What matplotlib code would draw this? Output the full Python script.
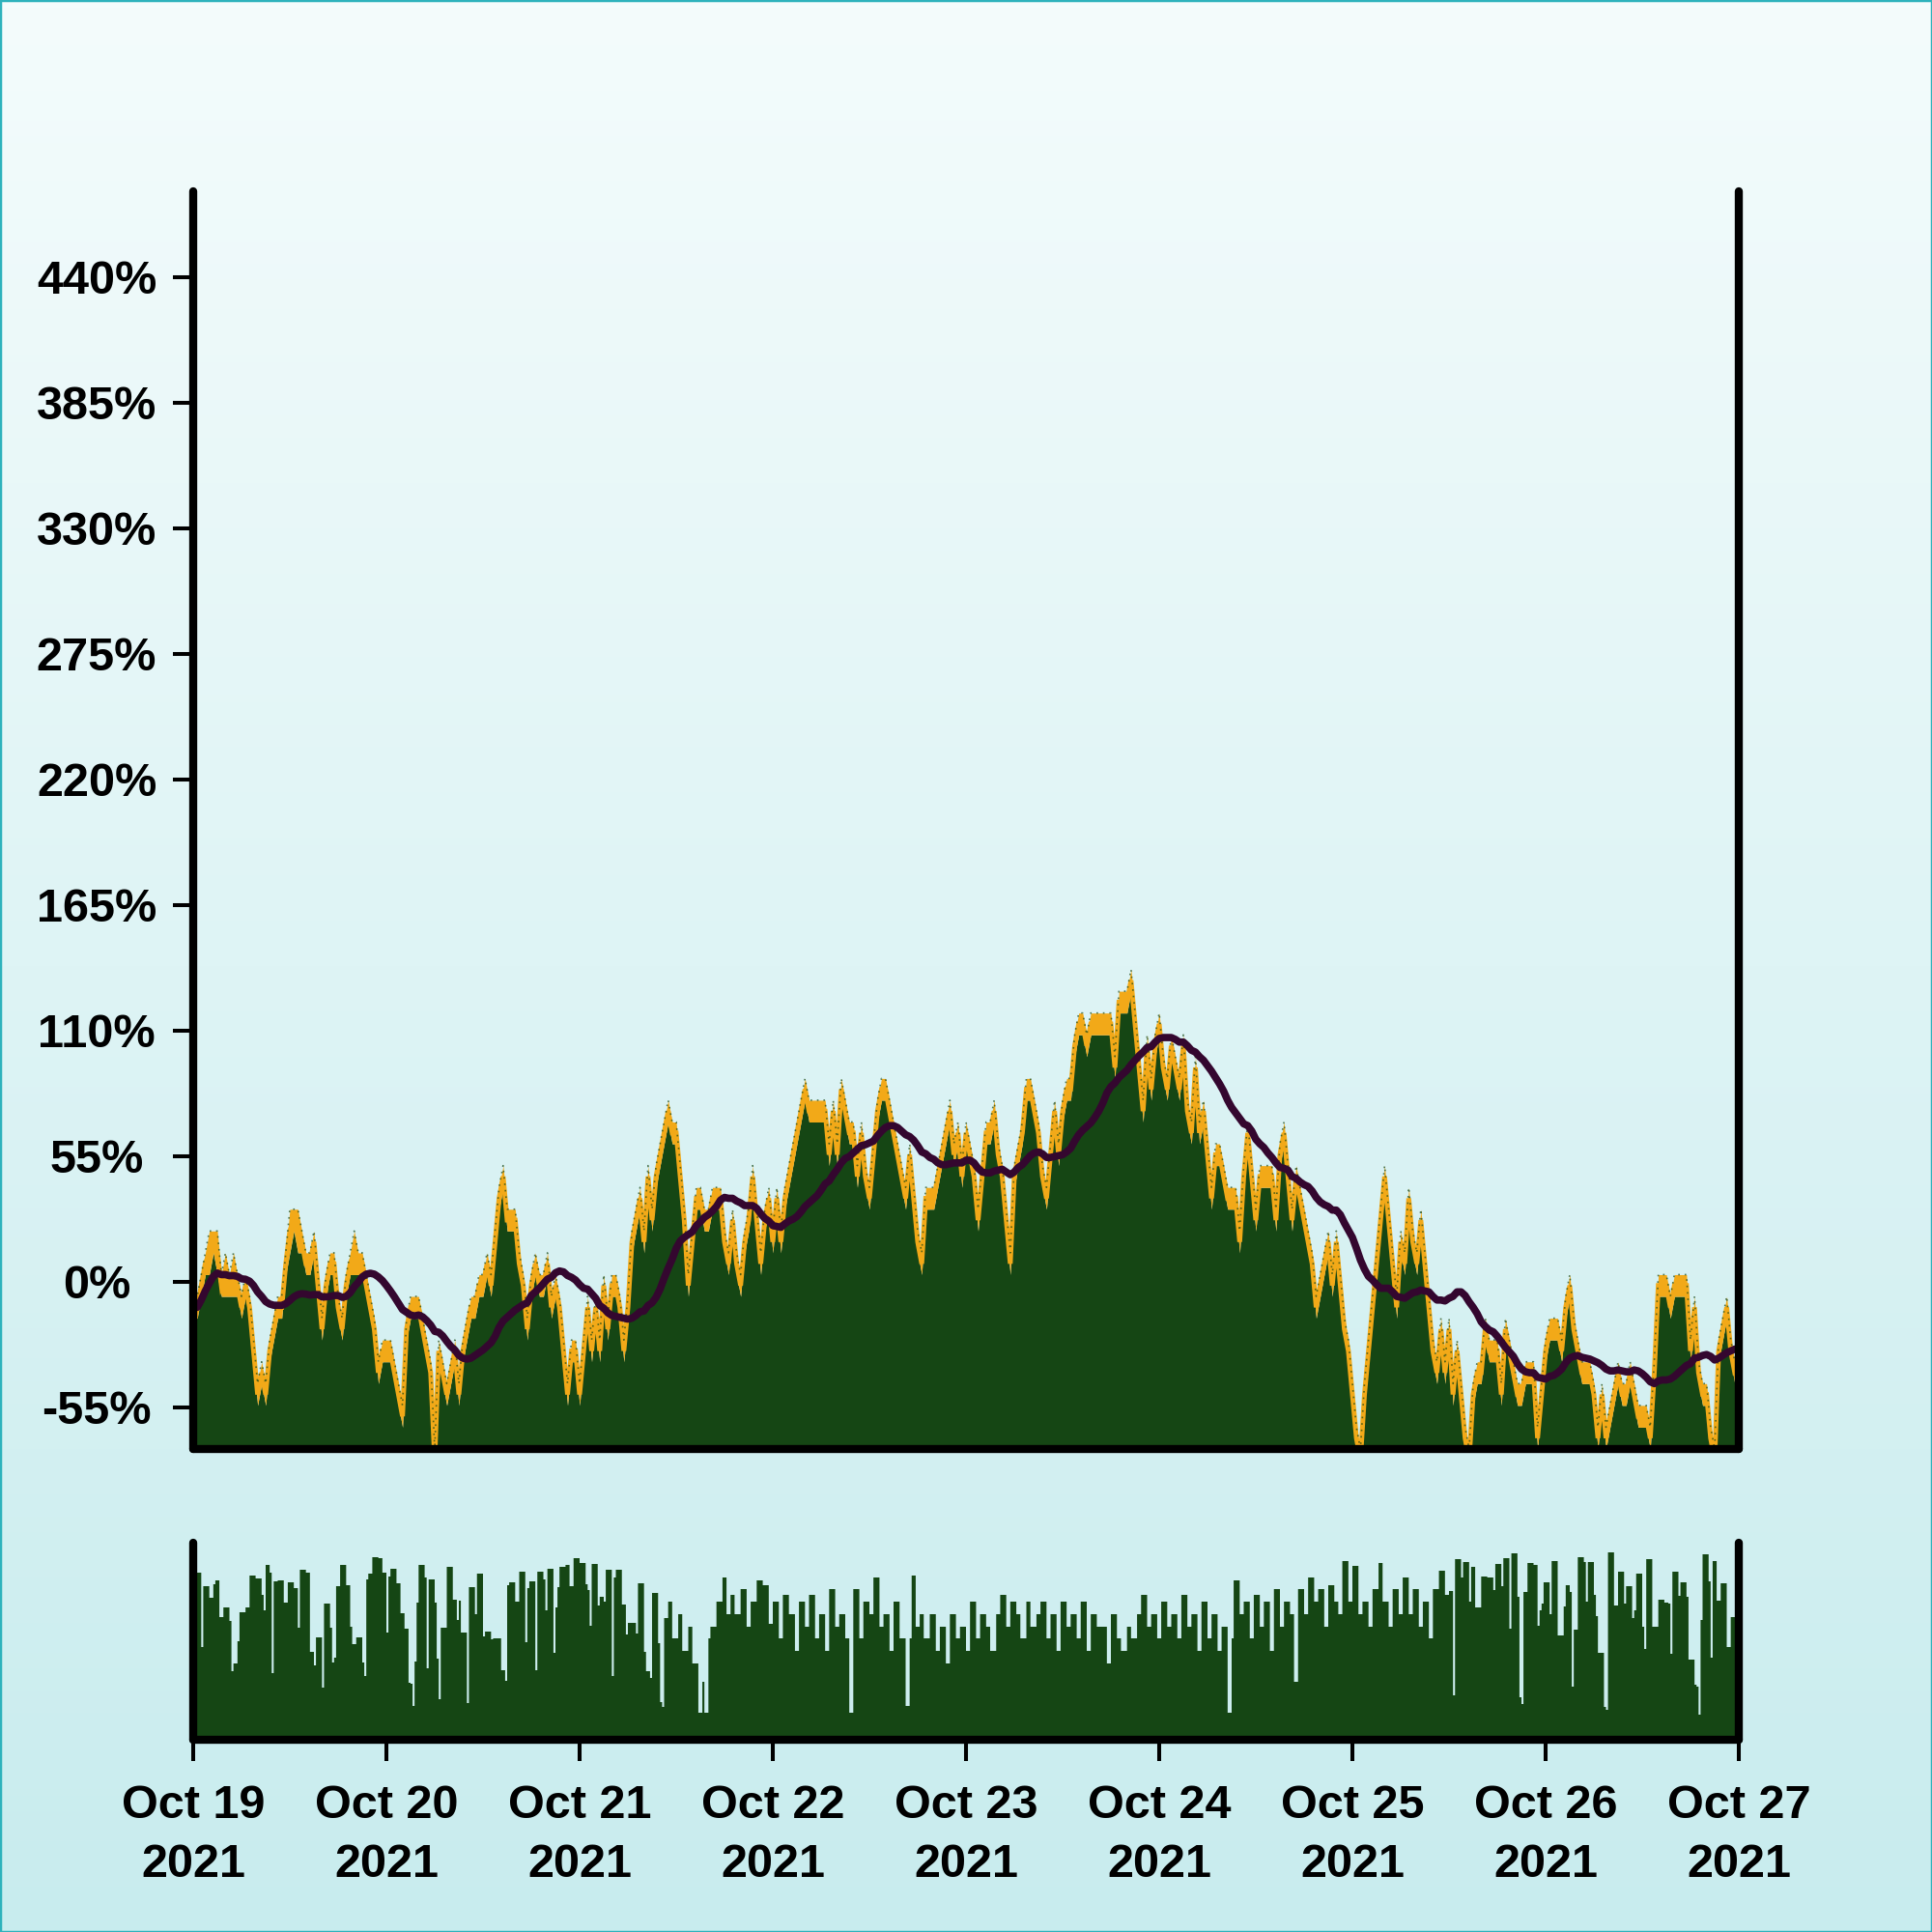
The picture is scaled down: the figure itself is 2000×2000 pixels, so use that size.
import numpy as np
import pandas as pd
import matplotlib
matplotlib.use("Agg")
import matplotlib.pyplot as plt
import matplotlib.dates as mdates
from matplotlib.ticker import FixedLocator, FuncFormatter
from matplotlib.colors import LinearSegmentedColormap
from matplotlib.patches import Rectangle

plt.rcParams['font.family'] = ['Liberation Sans', 'DejaVu Sans']
plt.rcParams['font.weight'] = 'bold'
plt.rcParams['axes.unicode_minus'] = False

# price moves in whole ticks, 1 tick = 9.55 %, tick 0 = +3 %
TICK_PCT = 9.55
TICK_ZERO = 3.0

# 30 min samples, Oct 19 00:00 -> Oct 26 23:30
high_ticks = [
    -1, -1, 0, 1, 2, 2, 2, 0, 1, 0, 1, 0, -1, 0, -1, -3, -5, -4, -5, -3,
    -2, -1, -1, 1, 3, 3, 3, 2, 1, 1, 2, 0, -2, 0, 1, 1, -1, -2, 0, 1,
    2, 1, 1, 0, -1, -2, -4, -3, -3, -3, -4, -5, -6, -2, -1, -1, -1, -2, -3, -4,
    -8, -3, -4, -5, -4, -3, -5, -3, -2, -1, -1, 0, 0, 1, 0, 2, 4, 5, 3, 3,
    3, 1, 0, -2, 0, 1, 0, 0, 1, -1, 0, -1, -3, -5, -3, -3, -5, -3, -1, -3,
    -1, -3, 0, -2, 0, 0, -1, -3, -1, 2, 3, 4, 2, 5, 3, 5, 6, 7, 8, 7,
    7, 5, 3, 0, 2, 4, 4, 3, 3, 4, 4, 4, 2, 1, 3, 1, 0, 2, 3, 5,
    3, 1, 3, 4, 2, 4, 2, 4, 5, 6, 7, 8, 9, 8, 8, 8, 8, 8, 6, 8,
    6, 9, 8, 7, 7, 5, 7, 5, 4, 6, 8, 9, 9, 8, 7, 6, 5, 4, 6, 4,
    2, 1, 4, 4, 4, 5, 6, 7, 8, 6, 7, 5, 7, 6, 5, 3, 5, 7, 7, 8,
    6, 5, 3, 1, 5, 6, 7, 9, 9, 8, 7, 5, 4, 6, 8, 6, 8, 9, 9, 11,
    12, 12, 11, 12, 12, 12, 12, 12, 12, 10, 13, 13, 13, 14, 12, 10, 8, 11, 9, 11,
    12, 10, 9, 11, 10, 9, 11, 8, 7, 10, 7, 8, 6, 4, 6, 6, 5, 4, 4, 4,
    2, 5, 7, 5, 3, 5, 5, 5, 5, 3, 6, 7, 5, 3, 5, 4, 3, 2, 1, -1,
    0, 1, 2, 0, 2, 0, -2, -3, -5, -7, -8, -5, -3, -1, 1, 3, 5, 3, 1, -1,
    2, 1, 4, 2, 1, 3, 1, -1, -3, -4, -2, -4, -2, -5, -3, -5, -7, -8, -5, -4,
    -4, -2, -3, -3, -3, -5, -2, -3, -4, -5, -5, -4, -4, -4, -7, -5, -3, -2, -2, -2,
    -3, -1, 0, -2, -3, -4, -4, -4, -5, -7, -5, -7, -6, -5, -4, -5, -5, -4, -5, -6,
    -6, -6, -7, -4, 0, 0, 0, -1, 0, 0, 0, 0, -3, -1, -4, -5, -5, -7, -8, -3,
    -2, -1, -3, -4,
]
low_ticks = [
    -2, -2, -1, 0, 0, 1, 0, -1, -1, -1, -1, -1, -2, -1, -2, -4, -6, -5, -6, -4,
    -3, -2, -2, 0, 1, 2, 1, 1, 0, 0, 1, -1, -3, -1, 0, 0, -2, -3, -1, 0,
    0, 0, 0, -1, -2, -3, -5, -4, -4, -4, -5, -6, -7, -3, -2, -2, -2, -3, -4, -5,
    -9, -4, -5, -6, -5, -4, -6, -4, -3, -2, -2, -1, -1, 0, -1, 1, 3, 4, 2, 2,
    2, 0, -1, -3, -1, 0, -1, -1, 0, -2, -1, -2, -4, -6, -4, -4, -6, -4, -2, -4,
    -2, -4, -1, -3, -1, -1, -2, -4, -2, 1, 2, 3, 1, 4, 2, 4, 5, 6, 7, 6,
    6, 4, 2, -1, 1, 3, 3, 2, 2, 3, 3, 3, 1, 0, 2, 0, -1, 1, 2, 4,
    2, 0, 2, 3, 1, 3, 1, 3, 4, 5, 6, 7, 8, 7, 7, 7, 7, 7, 5, 7,
    5, 8, 7, 6, 6, 4, 6, 4, 3, 5, 7, 8, 8, 7, 6, 5, 4, 3, 5, 3,
    1, 0, 3, 3, 3, 4, 5, 6, 7, 5, 6, 4, 6, 5, 4, 2, 4, 6, 6, 7,
    5, 4, 2, 0, 4, 5, 6, 8, 8, 7, 6, 4, 3, 5, 7, 5, 7, 8, 8, 10,
    11, 11, 10, 11, 11, 11, 11, 11, 11, 9, 12, 12, 12, 13, 11, 9, 7, 10, 8, 10,
    11, 9, 8, 10, 9, 8, 10, 7, 6, 9, 6, 7, 5, 3, 5, 5, 4, 3, 3, 3,
    1, 4, 6, 4, 2, 4, 4, 4, 4, 2, 5, 6, 4, 2, 4, 3, 2, 1, 0, -2,
    -1, 0, 1, -1, 1, -1, -3, -4, -6, -8, -9, -6, -4, -2, 0, 2, 4, 2, 0, -2,
    1, 0, 3, 1, 0, 2, 0, -2, -4, -5, -3, -5, -3, -6, -4, -6, -8, -9, -6, -5,
    -5, -3, -4, -4, -4, -6, -3, -4, -5, -6, -6, -5, -5, -5, -8, -6, -4, -3, -3, -3,
    -4, -2, -1, -3, -4, -5, -5, -5, -6, -8, -6, -8, -7, -6, -5, -6, -6, -5, -6, -7,
    -7, -7, -8, -5, -1, -1, -1, -2, -1, -1, -1, -1, -4, -2, -5, -6, -6, -8, -9, -4,
    -3, -2, -4, -5,
]

# volume, 15 min bars, stored as bar height + how many bars in a row share it
vol_a_h = [
    173, 96, 159, 147, 161, 165, 127, 137, 123, 71,
    79, 102, 132, 137, 170, 167, 150, 134, 181, 173,
    69, 164, 165, 142, 163, 157, 116, 176, 173, 91,
    77, 106, 54, 141, 116, 80, 85, 159, 181, 160,
    117, 99, 106, 80, 66, 166, 172, 189, 188, 173,
    111, 169, 177, 162, 131, 115, 59, 58, 35, 81,
    142, 181, 168, 74, 166, 142, 84, 42, 116, 179,
    145, 124, 144, 111, 38, 158, 130, 172, 107, 112,
    104, 105, 72, 61, 160, 163, 143, 174, 101, 157,
    164, 72, 174, 166, 134, 177, 90, 137, 158, 179,
    181, 159, 188, 183, 161, 155, 118, 182, 139, 148,
    143, 176, 66, 168, 176, 140, 109, 121, 110, 162,
    91, 71, 64, 152, 100, 39, 34, 126,
]
vol_a_n = [
    4, 1, 3, 2, 1, 2, 2, 3, 1, 1, 2, 1, 3, 2, 3, 3, 1, 1, 2, 1,
    1, 2, 3, 2, 3, 2, 1, 3, 2, 2, 1, 3, 1, 3, 1, 1, 1, 2, 3, 2,
    1, 2, 3, 1, 1, 1, 2, 3, 2, 2, 1, 1, 3, 2, 2, 2, 1, 1, 1, 1,
    1, 3, 1, 1, 3, 1, 1, 1, 3, 3, 2, 1, 1, 3, 1, 3, 1, 3, 1, 3,
    1, 4, 2, 1, 1, 3, 2, 3, 1, 1, 3, 1, 3, 1, 1, 3, 1, 1, 1, 3,
    2, 2, 3, 3, 1, 1, 1, 3, 1, 2, 1, 3, 1, 1, 3, 2, 1, 4, 1, 3,
    1, 2, 1, 3, 1, 1, 1, 2,
]
vol_b_h = [
    143, 105, 130, 92, 117, 79, 28, 60, 28, 105, 117, 143, 168, 130, 150,
    130, 156, 117, 143, 165, 160, 120, 143, 105, 150, 130, 92,
    143, 117, 150, 105, 130, 92, 156, 117, 130, 105, 28,
    156, 105, 143, 130, 168, 117, 130, 92, 143, 105, 35,
    105, 170, 117, 130, 105,
    130, 92, 117, 79, 130, 105, 117, 92, 143, 105, 130, 117, 92, 130,
    150, 117, 143, 130, 105, 143, 117, 130,
    143, 105, 130, 92, 143, 117, 130, 105, 143, 92, 130, 117,
    117, 79, 130, 105, 92, 117, 105, 130,
    150, 117, 130, 105, 143, 117, 130, 105, 150, 117, 130, 92,
    143, 105, 130, 92, 117, 28,
    105, 165, 130, 143, 105, 150, 117, 143, 92, 156, 117, 143, 130, 60,
    156, 130, 168, 143, 156, 117, 160, 143, 130,
    185, 143, 180, 130,
    143, 117, 156, 183, 143, 117, 156, 130,
    168, 130, 156, 117, 143, 105, 156, 175, 150,
]
vol_b_n = [
    2, 3, 2, 3, 2, 3, 2, 1, 2, 1, 3, 3, 2, 2, 2,
    3, 3, 2, 3, 3, 3, 2, 3, 2, 3, 3, 2,
    3, 2, 3, 2, 3, 2, 3, 2, 3, 2, 2,
    3, 2, 3, 2, 3, 2, 3, 2, 3, 3, 2,
    1, 2, 2, 2, 3,
    3, 2, 3, 2, 3, 2, 3, 2, 3, 2, 3, 2, 3, 2,
    3, 2, 3, 2, 3, 2, 3, 2,
    3, 2, 3, 2, 3, 2, 3, 2, 3, 2, 3, 2,
    3, 2, 3, 2, 3, 2, 3, 2,
    3, 2, 3, 2, 3, 2, 3, 2, 3, 2, 3, 2,
    3, 2, 3, 2, 3, 2,
    1, 3, 2, 3, 2, 3, 2, 3, 2, 3, 2, 3, 2, 2,
    3, 2, 3, 2, 3, 2, 3, 2, 2,
    3, 2, 3, 2,
    3, 2, 3, 2, 3, 2, 3, 2,
    3, 2, 3, 2, 3, 2, 3, 3, 2,
]
vol_c_h = [
    154, 46, 187, 168, 184, 143, 179, 137, 169, 168,
    155, 182, 159, 188, 115, 193, 148, 44, 37, 153,
    183, 181, 118, 134, 141, 163, 130, 185, 108, 138,
    160, 153, 55, 114, 189, 184, 143, 184, 150, 128,
    90, 34, 31, 194, 139, 174, 141, 159, 126, 134,
    172, 117, 94, 187, 117, 145, 142, 141, 89, 174,
    149, 163, 148, 83, 57, 55, 26, 124, 192, 164,
    85, 185, 144, 162, 96, 127,
]
vol_c_n = [
    2, 1, 3, 1, 3, 1, 2, 3, 3, 3, 1, 3, 1, 3, 1, 3, 1, 1, 1, 2,
    3, 2, 1, 1, 1, 3, 1, 3, 3, 1, 2, 1, 1, 2, 3, 1, 1, 3, 1, 1,
    3, 1, 1, 3, 2, 3, 1, 3, 1, 1, 3, 1, 1, 3, 3, 3, 2, 1, 1, 3,
    1, 3, 1, 3, 1, 1, 1, 1, 3, 1, 1, 2, 2, 3, 2, 4,
]

GREEN = '#154614'
ORANGE = '#F2A918'
PURPLE = '#34072F'

t = pd.date_range('2021-10-19', periods=len(high_ticks), freq='30min')
high = TICK_ZERO + TICK_PCT * np.array(high_ticks)
low = TICK_ZERO + TICK_PCT * np.array(low_ticks)
ma = pd.Series((high + low) / 2).rolling(24, min_periods=1).mean()

vol = np.concatenate([np.repeat(vol_a_h, vol_a_n),
                      np.repeat(vol_b_h, vol_b_n),
                      np.repeat(vol_c_h, vol_c_n)])
edges = mdates.date2num(pd.date_range('2021-10-19', periods=len(vol) + 1, freq='15min'))

fig = plt.figure(figsize=(20, 20), dpi=100)

# background gradient
bg = fig.add_axes([0, 0, 1, 1], zorder=-10)
grad = np.linspace(0, 1, 256).reshape(-1, 1)
bg.imshow(grad, aspect='auto', extent=[0, 1, 0, 1], origin='upper',
          cmap=LinearSegmentedColormap.from_list('bg', ['#F4FCFC', '#C8ECEE']))
bg.axis('off')
fig.patches.append(Rectangle((0, 0), 1, 1, transform=fig.transFigure, fill=False,
                             edgecolor='#2EB2BC', linewidth=2.5))

x0 = pd.Timestamp('2021-10-19')
x1 = pd.Timestamp('2021-10-27')

# price panel
ax = fig.add_axes([0.1, 0.25, 0.8, 0.651])
ax.set_facecolor('none')
ax.fill_between(t, -100, low, color=GREEN, lw=0)
ax.fill_between(t, low, high, color=ORANGE, lw=0)
ax.plot(t, (high + low) / 2, color=ORANGE, lw=3.6, solid_joinstyle='miter')
ax.plot(t, high, color=GREEN, lw=1.2, ls=(0, (1, 3)), alpha=0.7)
ax.plot(t, ma, color=PURPLE, lw=5.5, solid_capstyle='round', solid_joinstyle='round')
ax.set_xlim(x0, x1)
ax.set_ylim(-73.4, 477.6)
ax.yaxis.set_major_locator(FixedLocator(np.arange(-55, 441, 55)))
ax.yaxis.set_major_formatter(FuncFormatter(lambda v, p: f'{v:.0f}%'))
ax.tick_params(axis='x', length=0, labelbottom=False)
ax.tick_params(axis='y', length=15, width=2.9, pad=57, labelsize=35)
for lab in ax.get_yticklabels():
    lab.set_horizontalalignment('center')

# volume panel
axv = fig.add_axes([0.1, 0.0995, 0.8, 0.102])
axv.set_facecolor('none')
axv.stairs(vol, edges, fill=True, color=GREEN, lw=0)
axv.set_xlim(mdates.date2num(x0), mdates.date2num(x1))
axv.set_ylim(0, 204)
axv.set_yticks([])
axv.xaxis.set_major_locator(mdates.DayLocator())
axv.xaxis.set_major_formatter(mdates.DateFormatter('%b %d\n%Y'))
axv.tick_params(axis='x', length=16, width=2.9, pad=17, labelsize=35)
for lab in axv.get_xticklabels():
    lab.set_linespacing(1.45)

for a in (ax, axv):
    a.spines['top'].set_visible(False)
    for s in ('left', 'right', 'bottom'):
        a.spines[s].set_linewidth(6)
        a.spines[s].set_capstyle('round')
        a.spines[s].set_zorder(5)

fig.savefig('out.png', dpi=100)
